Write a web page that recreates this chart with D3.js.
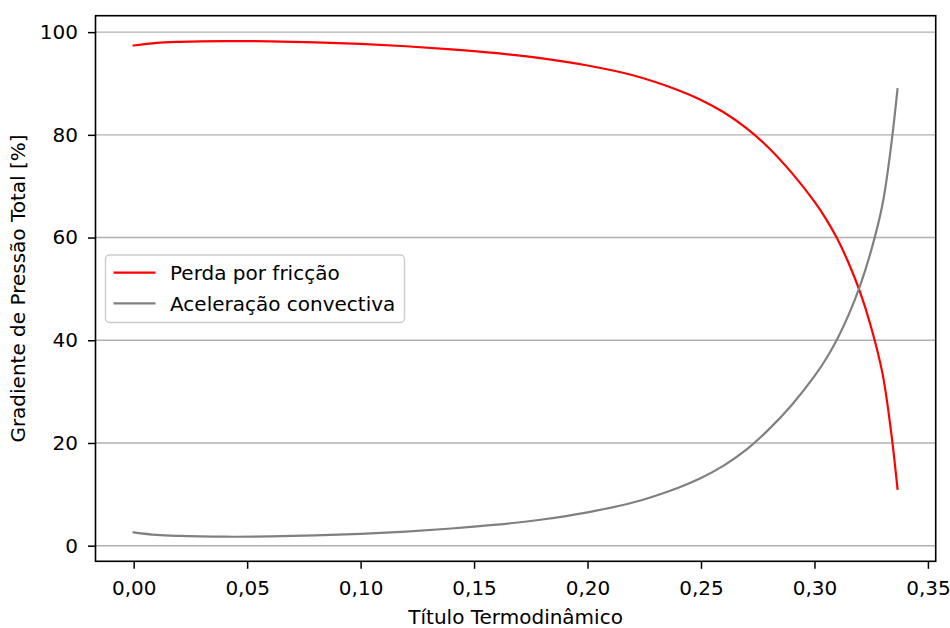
<!DOCTYPE html>
<html>
<head>
<meta charset="utf-8">
<script src="https://cdn.jsdelivr.net/npm/d3@7"></script>
<style>
  html, body { margin: 0; padding: 0; background: #fff; }
  svg { display: block; font-family: "DejaVu Sans", sans-serif; }
</style>
</head>
<body>
<svg id="chart" width="950" height="628"></svg>
<script>
// Thermodynamic quality (x) sampled along the channel
const quality = [0, 0.01, 0.02, 0.04, 0.06, 0.08, 0.10, 0.12, 0.14, 0.16, 0.18, 0.20,
  0.22, 0.24, 0.25, 0.26, 0.27, 0.28, 0.29, 0.30, 0.305, 0.31, 0.315, 0.32, 0.325,
  0.33, 0.3336, 0.3366];

// Share of the total pressure gradient due to friction [%]
const friction = [97.4, 97.9, 98.1, 98.25, 98.2, 98.0, 97.7, 97.25, 96.65, 95.9, 94.9, 93.5,
  91.6, 88.7, 86.8, 84.4, 81.3, 77.4, 72.6, 67.0, 63.7, 59.8, 55.1, 49.5, 42.5,
  33.5, 22.8, 11.1];

// Share of the total pressure gradient due to convective acceleration [%]
const acceleration = [2.6, 2.1, 1.9, 1.75, 1.8, 2.0, 2.3, 2.75, 3.35, 4.1, 5.1, 6.5,
  8.4, 11.3, 13.2, 15.6, 18.7, 22.7, 27.4, 33.0, 36.3, 40.2, 44.9, 50.5, 57.5,
  66.5, 77.2, 88.9];

const xTicks = [0, 0.05, 0.10, 0.15, 0.20, 0.25, 0.30, 0.35];
const yTicks = [0, 20, 40, 60, 80, 100];
const seriesNames = ["Perda por fricção", "Aceleração convectiva"];
const seriesColors = ["#ff0000", "#808080"];
const xLabel = "Título Termodinâmico";
const yLabel = "Gradiente de Pressão Total [%]";

const svg = d3.select("#chart");
const plot = { left: 95.5, right: 935.7, top: 15.7, bottom: 561.3 };
const fontSize = 20;

const ptBR = d3.formatLocale({ decimal: ",", thousands: ".", grouping: [3], currency: ["R$", ""] });
const fmtX = ptBR.format(".2f");

const x = d3.scaleLinear().domain([-0.01683, 0.35343]).range([plot.left, plot.right]);
const y = d3.scaleLinear().domain([-3.04, 103.2]).range([plot.bottom, plot.top]);

// horizontal grid
svg.append("g")
  .selectAll("line")
  .data(yTicks)
  .join("line")
  .attr("x1", plot.left).attr("x2", plot.right)
  .attr("y1", d => y(d)).attr("y2", d => y(d))
  .attr("stroke", "#b0b0b0").attr("stroke-width", 1.4);

// series
const series = [friction, acceleration];
const line = d3.line()
  .x((d, i) => x(quality[i]))
  .y(d => y(d))
  .curve(d3.curveCatmullRom.alpha(0.5));

svg.append("g")
  .selectAll("path")
  .data(series)
  .join("path")
  .attr("d", d => line(d))
  .attr("fill", "none")
  .attr("stroke", (d, i) => seriesColors[i])
  .attr("stroke-width", 2.2)
  .attr("stroke-linejoin", "round")
  .attr("stroke-linecap", "square");

// axes
const xAxis = d3.axisBottom(x).tickValues(xTicks).tickFormat(fmtX)
  .tickSizeInner(7.5).tickSizeOuter(0).tickPadding(12.3);
const yAxis = d3.axisLeft(y).tickValues(yTicks).tickFormat(d3.format("d"))
  .tickSizeInner(7.5).tickSizeOuter(0).tickPadding(10);

const gx = svg.append("g").attr("transform", `translate(0,${plot.bottom})`).call(xAxis);
const gy = svg.append("g").attr("transform", `translate(${plot.left},0)`).call(yAxis);
[gx, gy].forEach(g => {
  g.select(".domain").remove();
  g.selectAll(".tick line").attr("stroke", "#000").attr("stroke-width", 1.5);
  g.selectAll(".tick text").attr("fill", "#000")
    .style("font-size", fontSize + "px").style("font-family", "DejaVu Sans");
});

// frame
svg.append("rect")
  .attr("x", plot.left).attr("y", plot.top)
  .attr("width", plot.right - plot.left).attr("height", plot.bottom - plot.top)
  .attr("fill", "none").attr("stroke", "#000").attr("stroke-width", 1.6);

// axis titles
svg.append("text")
  .attr("x", (plot.left + plot.right) / 2).attr("y", 624)
  .attr("text-anchor", "middle")
  .style("font-size", fontSize + "px").text(xLabel);

svg.append("text")
  .attr("transform", `translate(18,${(plot.top + plot.bottom) / 2}) rotate(-90)`)
  .attr("text-anchor", "middle").attr("dy", "0.36em")
  .style("font-size", fontSize + "px").text(yLabel);

// legend
const legend = svg.append("g").attr("transform", "translate(105.5,255)");
legend.append("rect")
  .attr("width", 299).attr("height", 67.5)
  .attr("rx", 4).attr("ry", 4)
  .attr("fill", "#fff").attr("fill-opacity", 0.8)
  .attr("stroke", "#cccccc").attr("stroke-width", 1.4);

const rows = legend.selectAll("g.row")
  .data(seriesNames)
  .join("g")
  .attr("class", "row")
  .attr("transform", (d, i) => `translate(0,${17.7 + i * 30.6})`);
rows.append("line")
  .attr("x1", 8).attr("x2", 50)
  .attr("stroke", (d, i) => seriesColors[i]).attr("stroke-width", 2.2);
rows.append("text")
  .attr("x", 64.5).attr("dy", "0.36em")
  .style("font-size", fontSize + "px")
  .text(d => d);
</script>
</body>
</html>
